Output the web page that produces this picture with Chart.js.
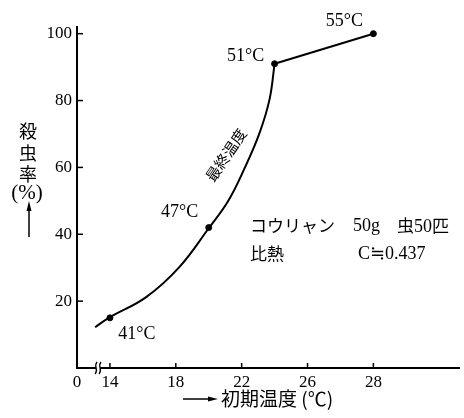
<!DOCTYPE html>
<html>
<head>
<meta charset="utf-8">
<script src="https://cdn.jsdelivr.net/npm/chart.js@4.4.1/dist/chart.umd.min.js"></script>
<style>
  html, body { margin: 0; padding: 0; background: #fff; }
  #wrap { width: 464px; height: 418px; }
</style>
</head>
<body>
<div id="wrap"><canvas id="c" width="464" height="418"></canvas></div>
<script>
// ---- data ----
const tickTemps = [0, 14, 18, 22, 26, 28];          // x tick labels (初期温度 ℃)
const tickLabels = ['0', '14', '18', '22', '26', '28'];
const tickSlots = [0, 1, 3, 5, 7, 9];               // broken-axis slot of each labelled tick
const yTicks = [20, 40, 60, 80, 100];

// smooth curve (最終温度)
const curveTemps = [13.1, 14, 16.2, 18.2, 20, 21.2, 22.2, 23.1, 23.7, 24];
const curveRates = [12.2, 15.2, 21.2, 30.1, 41.8, 50.1, 60, 70.5, 80.5, 91];

// measured points
const pointTemps = [14, 20, 24, 28];
const pointRates = [15, 42, 91, 100];
const pointLabels = ['41°C', '47°C', '51°C', '55°C'];

// straight segment from 51°C to 55°C
const upperTemps = [24, 28];
const upperRates = [91, 100];

// ---- broken axis mapping ----
function toSlot(t) {
  if (t < tickTemps[1]) {
    return tickSlots[1] + (t - tickTemps[1]) * (tickSlots[2] - tickSlots[1]) / (tickTemps[2] - tickTemps[1]);
  }
  for (let i = 1; i < tickTemps.length - 1; i++) {
    if (t <= tickTemps[i + 1]) {
      return tickSlots[i] + (t - tickTemps[i]) * (tickSlots[i + 1] - tickSlots[i]) / (tickTemps[i + 1] - tickTemps[i]);
    }
  }
  const n = tickTemps.length - 1;
  return tickSlots[n] + (t - tickTemps[n]) * (tickSlots[n] - tickSlots[n - 1]) / (tickTemps[n] - tickTemps[n - 1]);
}
const xy = (ts, vs) => ts.map((t, i) => ({ x: toSlot(t), y: vs[i] }));

const SERIF = '"Liberation Serif", "DejaVu Serif", serif';
const CJK = '"Noto Sans CJK JP", "Noto Sans", sans-serif';

const decor = {
  id: 'decor',
  afterDraw(chart) {
    const ctx = chart.ctx;
    const xs = chart.scales.x, ys = chart.scales.y;
    const ca = chart.chartArea;
    ctx.save();
    ctx.strokeStyle = '#000';
    ctx.fillStyle = '#000';
    // inward ticks
    ctx.lineWidth = 1.5;
    yTicks.forEach(v => {
      const py = ys.getPixelForValue(v);
      ctx.beginPath(); ctx.moveTo(ca.left, py); ctx.lineTo(ca.left + 6, py); ctx.stroke();
    });
    tickSlots.slice(1).forEach(s => {
      const px = xs.getPixelForValue(s);
      ctx.beginPath(); ctx.moveTo(px, ca.bottom); ctx.lineTo(px, ca.bottom - 5); ctx.stroke();
    });
    // axis break mark
    ctx.fillStyle = '#fff';
    const b1 = xs.getPixelForValue(0.58), b2 = xs.getPixelForValue(0.7);
    ctx.fillRect(b1, ca.bottom - 2, b2 - b1, 4);
    ctx.lineWidth = 1.3;
    [b1, b2].forEach(bx => {
      ctx.beginPath();
      ctx.moveTo(bx + 1, ca.bottom - 6);
      ctx.bezierCurveTo(bx - 3, ca.bottom - 2, bx + 3, ca.bottom + 2, bx - 1, ca.bottom + 6);
      ctx.stroke();
    });
    ctx.fillStyle = '#000';

    // point labels
    const offs = [[27, 16], [-29, -15], [-29, -8], [-29, -12]];
    ctx.font = '18px ' + SERIF;
    ctx.textAlign = 'center'; ctx.textBaseline = 'middle';
    pointTemps.forEach((t, i) => {
      const px = xs.getPixelForValue(toSlot(t)), py = ys.getPixelForValue(pointRates[i]);
      ctx.fillText(pointLabels[i], px + offs[i][0], py + offs[i][1]);
    });

    // rotated curve label
    ctx.save();
    ctx.translate(226, 155);
    ctx.rotate(-56 * Math.PI / 180);
    ctx.font = '15px ' + CJK;
    ctx.fillText('最終温度', 0, 0);
    ctx.restore();

    // annotation
    ctx.textAlign = 'left';
    ctx.font = '17px ' + CJK;
    ctx.fillText('コウリャン', 250, 226);
    ctx.fillText('比熱', 250, 254);
    ctx.font = '18px ' + SERIF;
    ctx.fillText('50g', 353, 226);
    ctx.font = '17px ' + CJK;
    ctx.fillText('虫', 397, 226);
    ctx.font = '18px ' + SERIF;
    ctx.fillText('50', 414, 227);
    ctx.font = '17px ' + CJK;
    ctx.fillText('匹', 432, 226);
    ctx.font = '18px ' + SERIF;
    ctx.fillText('C≒0.437', 358, 254);

    // y title (stacked)
    ctx.textAlign = 'center';
    ctx.font = '18px ' + CJK;
    ctx.fillText('殺', 28, 131);
    ctx.fillText('虫', 28, 153);
    ctx.fillText('率', 28, 174);
    ctx.font = '21px ' + SERIF;
    ctx.fillText('(%)', 27, 193);
    ctx.lineWidth = 1.5;
    ctx.beginPath(); ctx.moveTo(29, 237); ctx.lineTo(29, 208); ctx.stroke();
    ctx.beginPath(); ctx.moveTo(29, 201); ctx.lineTo(26.5, 211); ctx.lineTo(31.5, 211); ctx.closePath(); ctx.fill();

    // x title
    ctx.beginPath(); ctx.moveTo(183, 399); ctx.lineTo(210, 399); ctx.stroke();
    ctx.beginPath(); ctx.moveTo(218, 399); ctx.lineTo(208, 396.5); ctx.lineTo(208, 401.5); ctx.closePath(); ctx.fill();
    ctx.textAlign = 'left';
    ctx.font = '19px ' + CJK;
    ctx.fillText('初期温度 (℃)', 221, 399);
    ctx.restore();
  }
};

new Chart(document.getElementById('c'), {
  type: 'scatter',
  data: {
    datasets: [
      { data: xy(curveTemps, curveRates), showLine: true, borderColor: '#000', borderWidth: 2,
        tension: 0.4, pointRadius: 0 },
      { data: xy(upperTemps, upperRates), showLine: true, borderColor: '#000', borderWidth: 2,
        pointRadius: 0 },
      { data: xy(pointTemps, pointRates), showLine: false, pointRadius: 3,
        pointBackgroundColor: '#000', pointBorderColor: '#000' }
    ]
  },
  options: {
    responsive: false,
    animation: false,
    devicePixelRatio: 1,
    layout: { padding: { top: 27, right: 0, bottom: 0, left: 0 } },
    plugins: { legend: { display: false }, tooltip: { enabled: false } },
    scales: {
      x: {
        type: 'linear', min: 0, max: 11.6,
        grid: { display: true, drawOnChartArea: false, drawTicks: false },
        border: { display: true, color: '#000', width: 2 },
        afterBuildTicks: s => { s.ticks = tickSlots.map(v => ({ value: v })); },
        afterFit: s => { s.height = 50; },
        ticks: { autoSkip: false, maxRotation: 0, padding: 4, color: '#000',
          font: { family: SERIF, size: 17 },
          callback: (v, i) => tickLabels[i] }
      },
      y: {
        type: 'linear', min: 0, max: 102,
        grid: { display: true, drawOnChartArea: false, drawTicks: false },
        border: { display: true, color: '#000', width: 2 },
        afterBuildTicks: s => { s.ticks = yTicks.map(v => ({ value: v })); },
        afterFit: s => { s.width = 77; },
        ticks: { padding: 5, color: '#000', font: { family: SERIF, size: 17 } }
      }
    }
  },
  plugins: [decor]
});
</script>
</body>
</html>
